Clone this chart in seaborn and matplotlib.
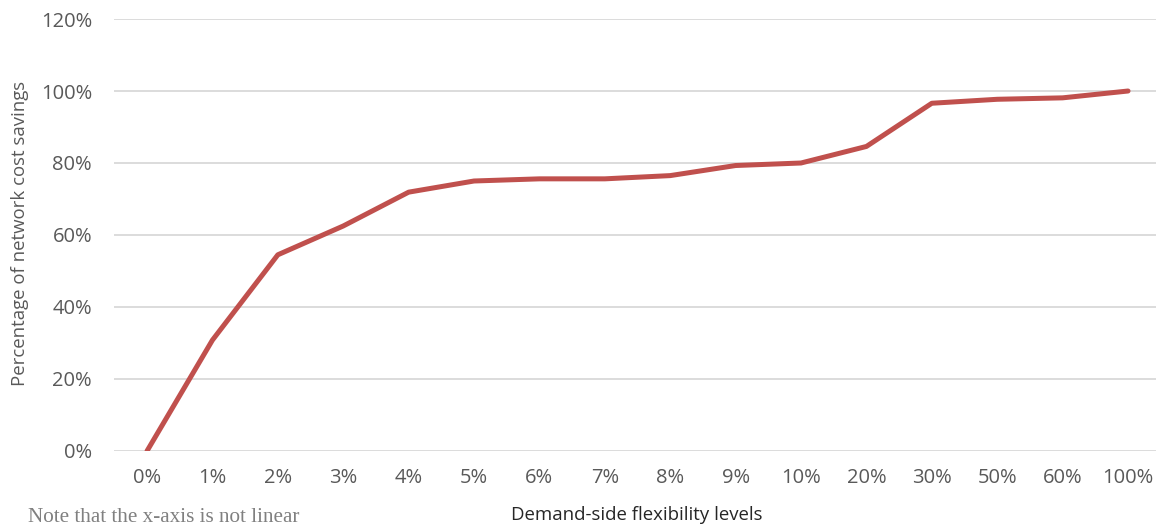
import matplotlib
matplotlib.use("Agg")
import matplotlib.pyplot as plt
import matplotlib.ticker as mticker
import seaborn as sns
import pandas as pd

# ── Data ───────────────────────────────────────────────────────────────────────
FLEX_LEVELS = ["0%", "1%", "2%", "3%", "4%", "5%", "6%", "7%",
               "8%", "9%", "10%", "20%", "30%", "50%", "60%", "100%"]
SAVINGS = [0.0, 30.8, 54.5, 62.5, 71.9, 75.0, 75.6, 75.6,
           76.5, 79.3, 80.0, 84.6, 96.6, 97.7, 98.1, 100.0]

LINE_COLOR = "#C0504D"
GRID_COLOR = "#D9D9D9"
TEXT_COLOR = "#595959"

# ── Setup ──────────────────────────────────────────────────────────────────────
sns.set_theme(style="white")
plt.rcParams["font.family"] = ["Open Sans", "DejaVu Sans"]

df = pd.DataFrame({"level": FLEX_LEVELS, "savings": [v / 100 for v in SAVINGS]})

fig = plt.figure(figsize=(11.56, 5.31), dpi=100)
ax = fig.add_axes([0.0989, 0.1507, 0.9052, 0.8135])

sns.lineplot(data=df, x="level", y="savings", sort=False, ax=ax,
             color=LINE_COLOR, linewidth=3.6, solid_capstyle="round")

ax.set_xlim(-0.5, len(FLEX_LEVELS) - 0.5)
ax.set_ylim(0, 1.2)
ax.yaxis.set_major_locator(mticker.MultipleLocator(0.2))
ax.yaxis.set_major_formatter(mticker.FuncFormatter(lambda v, _: f"{v*100:.0f}%"))
ax.grid(axis="y", color=GRID_COLOR, linewidth=1.3)
ax.set_axisbelow(True)
for s in ax.spines.values():
    s.set_visible(False)

ax.tick_params(axis="both", length=0, labelsize=14.5, colors=TEXT_COLOR)
ax.tick_params(axis="y", pad=16)
ax.tick_params(axis="x", pad=12)

ax.set_ylabel("Percentage of network cost savings", fontsize=13.4, color=TEXT_COLOR)
ax.yaxis.set_label_coords(-0.0815, 0.503)
ax.set_xlabel("Demand-side flexibility levels", fontsize=13.4, color="#262626")
ax.xaxis.set_label_coords(0.4995, -0.128)

fig.text(0.024, 0.008, "Note that the x-axis is not linear",
         family="Liberation Serif", fontsize=15.2, color="#808080",
         ha="left", va="bottom")

fig.savefig("out.png", dpi=100, facecolor="white")
